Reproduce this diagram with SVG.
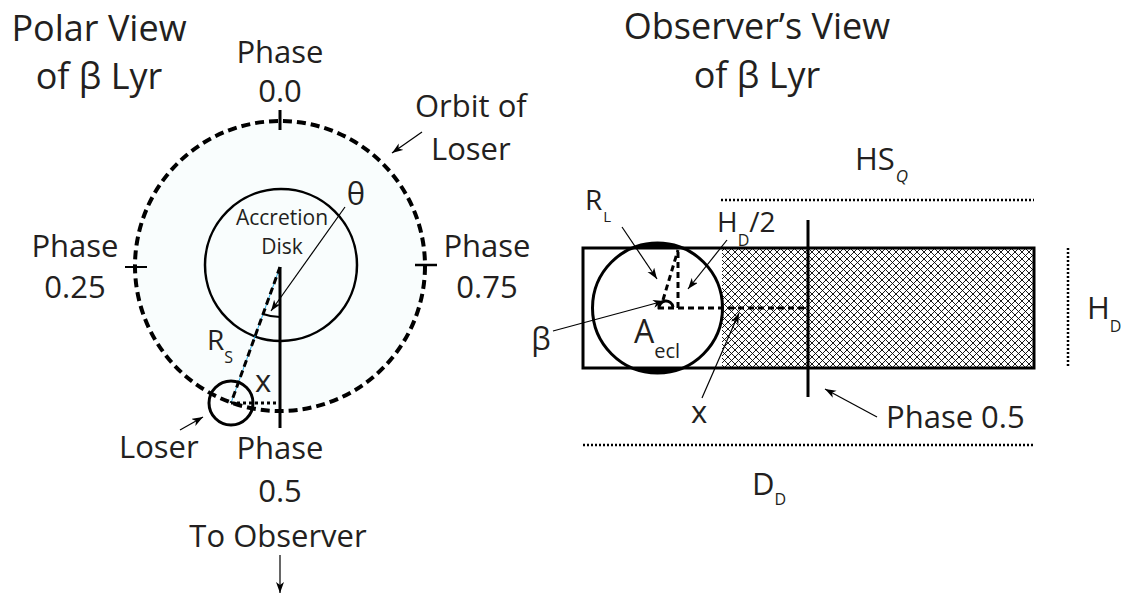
<svg xmlns="http://www.w3.org/2000/svg" width="1125" height="595" viewBox="0 0 1125 595">
<style>
text{font-family:"Open Sans","Liberation Sans",sans-serif;fill:#231f20}
.t{font-size:36px}
.l{font-size:31px}
.m{font-size:21px}
.s{font-size:16px}
.ln{stroke:#000;fill:none}
.thick{stroke-width:3}
.arr{stroke:#000;stroke-width:1.2;fill:none;marker-end:url(#ah)}
.dot{stroke:#000;stroke-width:2.5;stroke-dasharray:2 2;fill:none}
</style>
<defs>
<marker id="ah" markerUnits="userSpaceOnUse" markerWidth="12" markerHeight="9" refX="11" refY="4" orient="auto">
<path d="M0,0 L11,4 L0,8 L3,4 z" fill="#000"/>
</marker>
<pattern id="hatch" patternUnits="userSpaceOnUse" width="7" height="7">
<path d="M0,0 L7,7 M7,0 L0,7 M-1,6 L1,8 M6,-1 L8,1 M-1,1 L1,-1 M6,8 L8,6" stroke="#000" stroke-width="0.9"/>
</pattern>
</defs>
<rect width="1125" height="595" fill="#fff"/>

<g id="titles">
<text class="t" x="99" y="41" text-anchor="middle">Polar View</text>
<text class="t" x="99" y="89" text-anchor="middle">of β Lyr</text>
<text class="t" x="757" y="39" text-anchor="middle">Observer’s View</text>
<text class="t" x="757" y="88" text-anchor="middle">of β Lyr</text>
</g>

<g id="orbit">
<circle cx="280" cy="266" r="145" fill="#f9fdfd" stroke="#000" stroke-width="4" stroke-dasharray="9 5"/>
<line class="ln thick" x1="280" y1="110" x2="280" y2="130"/>
<line class="ln" stroke-width="2" x1="125" y1="267" x2="147" y2="267"/>
<line class="ln" stroke-width="2.5" x1="415" y1="265" x2="437" y2="265"/>
<text class="l" x="415" y="117">Orbit of</text>
<text class="l" x="431" y="160">Loser</text>
</g>

<g id="phase00"><text class="l" x="280" y="63" text-anchor="middle">Phase</text><text class="l" x="280" y="102" text-anchor="middle">0.0</text></g>
<g id="phase025"><text class="l" x="75" y="257" text-anchor="middle">Phase</text><text class="l" x="75" y="298" text-anchor="middle">0.25</text></g>
<g id="phase075"><text class="l" x="487" y="257" text-anchor="middle">Phase</text><text class="l" x="487" y="298" text-anchor="middle">0.75</text></g>
<g id="phase05">
<text class="l" x="280" y="459" text-anchor="middle">Phase</text>
<text class="l" x="280" y="502" text-anchor="middle">0.5</text>
<text class="l" x="278" y="547" text-anchor="middle">To Observer</text>
</g>

<g id="disk">
<circle cx="281" cy="265" r="76" fill="none" stroke="#000" stroke-width="2.5"/>
<text class="m" x="282" y="225" text-anchor="middle">Accretion</text>
<text class="m" x="282" y="254" text-anchor="middle">Disk</text>
</g>

<g id="loser">
<circle cx="231" cy="403" r="22" fill="none" stroke="#000" stroke-width="3"/>
<text class="l" x="119" y="458">Loser</text>
</g>

<g id="observer-view">
<rect x="722" y="248" width="312" height="120" fill="url(#hatch)"/>
<rect x="583" y="248" width="451" height="120" fill="none" stroke="#000" stroke-width="3"/>
<circle cx="657.5" cy="308" r="65" fill="none" stroke="#000" stroke-width="3"/>
<path d="M632.5,248 A65,65 0 0 1 682.5,248 Z M632.5,368 A65,65 0 0 0 682.5,368 Z" fill="#000"/>
<line class="ln thick" x1="808" y1="220" x2="808" y2="397"/>
</g>

<g id="connectors">
<line x1="280" y1="267" x2="231" y2="403" stroke="#29a9e0" stroke-width="1"/>
<line x1="280" y1="267" x2="231" y2="403" stroke="#000" stroke-width="3" stroke-dasharray="7 4"/>
<line class="ln thick" x1="280" y1="267" x2="280" y2="428"/>
<path class="ln" stroke-width="2" d="M263,314 A50,50 0 0 0 280,317"/>
<line x1="231" y1="403" x2="280" y2="403" stroke="#000" stroke-width="3" stroke-dasharray="3 3"/>
<line class="arr" x1="345" y1="207" x2="271" y2="311"/>
<line class="arr" x1="422" y1="132" x2="392" y2="153"/>
<line class="arr" x1="180" y1="430" x2="203" y2="417"/>
<line class="arr" stroke-width="1.5" x1="280" y1="555" x2="280" y2="593"/>

<line x1="658" y1="308" x2="808" y2="308" stroke="#000" stroke-width="3" stroke-dasharray="6 4"/>
<line x1="678" y1="308" x2="678" y2="250" stroke="#000" stroke-width="3" stroke-dasharray="6 4"/>
<line x1="663" y1="300" x2="678" y2="250" stroke="#000" stroke-width="3" stroke-dasharray="6 4"/>
<path class="ln" stroke-width="3" d="M659,309 A7,7 0 0 1 673,307"/>
<line class="arr" x1="622" y1="227" x2="657" y2="279"/>
<line class="arr" x1="727" y1="240" x2="688" y2="289"/>
<line class="arr" x1="553" y1="331" x2="664" y2="301"/>
<line class="arr" x1="702" y1="398" x2="739" y2="313"/>
<line class="arr" x1="877" y1="417" x2="825" y2="389"/>

<line class="dot" x1="721" y1="200" x2="1034" y2="200"/>
<line class="dot" x1="1068" y1="248" x2="1068" y2="368"/>
<line class="dot" x1="583" y1="445" x2="1034" y2="445"/>
</g>

<g id="labels">
<text class="l" x="356" y="205" text-anchor="middle">θ</text>
<text style="font-size:28px" x="207" y="350">R<tspan class="s" dy="13">S</tspan></text>
<text class="l" x="255" y="392">x</text>
<text class="l" x="855" y="170">HS<tspan style="font-size:17px;font-style:italic" dx="1" dy="12">Q</tspan></text>
<text style="font-size:28px" x="585" y="210">R<tspan style="font-size:15px" dx="1" dy="12">L</tspan></text>
<text style="font-size:28px" x="717" y="232">H<tspan class="s" dy="14">D</tspan><tspan dy="-14">/2</tspan></text>
<text class="l" x="541" y="350" text-anchor="middle">β</text>
<text style="font-size:32px" x="634" y="343">A<tspan style="font-size:20px" dy="15">ecl</tspan></text>
<text class="l" x="699" y="423" text-anchor="middle">x</text>
<text class="l" x="886" y="428">Phase 0.5</text>
<text class="l" x="1087" y="319">H<tspan class="s" dy="13">D</tspan></text>
<text class="l" x="752" y="495">D<tspan class="s" dy="10">D</tspan></text>
</g>
</svg>
